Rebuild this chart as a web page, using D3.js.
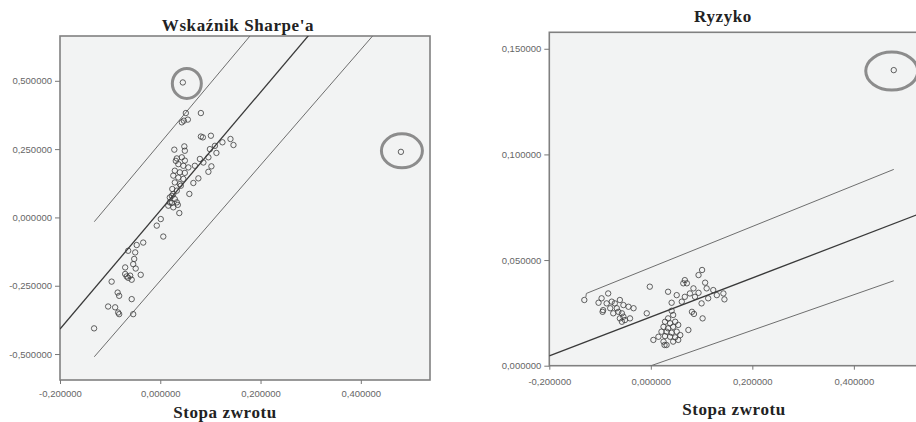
<!DOCTYPE html>
<html>
<head>
<meta charset="utf-8">
<script src="https://cdn.jsdelivr.net/npm/d3@7/dist/d3.min.js"></script>
<style>
  body { margin: 0; background: #fff; }
  .tick text { font-family: 'Liberation Sans', Arial, sans-serif; font-size: 9.5px; fill: #666; }
  .tick line { stroke: #777; }
  .title { font-family: 'Liberation Serif', 'Times New Roman', serif; font-weight: bold; font-size: 17px; fill: #222; letter-spacing: 0.6px; }
</style>
</head>
<body>
<div id="container"></div>
<script>
/* Wskaźnik Sharpe'a vs stopa zwrotu, [x, y] */
var sharpePoints = [
  [0.051, 0.382], [0.081, 0.382], [0.047, 0.354], [0.055, 0.358], [0.043, 0.348],
  [0.081, 0.296], [0.085, 0.293], [0.101, 0.299], [0.028, 0.248], [0.048, 0.260],
  [0.049, 0.244], [0.124, 0.275], [0.140, 0.287], [0.146, 0.265], [0.109, 0.262],
  [0.099, 0.250], [0.112, 0.236], [0.096, 0.220], [0.079, 0.214], [0.086, 0.201],
  [0.102, 0.187], [0.096, 0.167], [0.069, 0.189], [0.076, 0.143], [0.066, 0.126],
  [0.058, 0.086], [0.033, 0.216], [0.043, 0.220], [0.049, 0.208], [0.036, 0.195],
  [0.046, 0.189], [0.056, 0.183], [0.029, 0.171], [0.039, 0.165], [0.049, 0.163],
  [0.026, 0.153], [0.036, 0.146], [0.046, 0.141], [0.029, 0.128], [0.039, 0.122],
  [0.031, 0.207], [0.041, 0.116], [0.024, 0.104], [0.033, 0.098], [0.026, 0.086],
  [0.023, 0.079], [0.019, 0.073], [0.029, 0.067], [0.023, 0.053], [0.033, 0.055],
  [0.019, 0.055], [0.035, 0.046], [0.016, 0.043], [0.026, 0.037], [0.038, 0.016],
  [0.001, -0.006], [-0.007, -0.030], [0.006, -0.070], [-0.034, -0.092], [-0.047, -0.101],
  [-0.064, -0.122], [-0.050, -0.128], [-0.052, -0.152], [-0.054, -0.171], [-0.070, -0.183],
  [-0.049, -0.187], [-0.070, -0.207], [-0.067, -0.216], [-0.060, -0.213], [-0.064, -0.221],
  [-0.057, -0.228], [-0.039, -0.210], [-0.097, -0.235], [-0.085, -0.275], [-0.082, -0.287],
  [-0.057, -0.299], [-0.104, -0.326], [-0.090, -0.329], [-0.084, -0.348], [-0.082, -0.354],
  [-0.054, -0.354], [-0.132, -0.406],
  [0.045, 0.494], [0.480, 0.240]
]

/* Ryzyko vs stopa zwrotu, [x, y] */
var riskPoints = [
  [-0.131, 0.0311], [-0.103, 0.0298], [-0.097, 0.0319], [-0.084, 0.0342], [-0.087, 0.0295],
  [-0.094, 0.0263], [-0.095, 0.0255], [-0.077, 0.0303], [-0.071, 0.0295], [-0.067, 0.0272],
  [-0.061, 0.0311], [-0.054, 0.0287], [-0.044, 0.0279], [-0.034, 0.0272], [-0.064, 0.0255],
  [-0.057, 0.0248], [-0.054, 0.0232], [-0.061, 0.0224], [-0.051, 0.0216], [-0.041, 0.0224],
  [-0.057, 0.0208], [-0.074, 0.0248], [-0.080, 0.0272],
  [-0.002, 0.0374], [-0.008, 0.0248], [0.034, 0.0350], [0.041, 0.0298], [0.051, 0.0334],
  [0.064, 0.0390], [0.067, 0.0405], [0.071, 0.0390], [0.094, 0.0429], [0.101, 0.0453],
  [0.107, 0.0393], [0.084, 0.0366], [0.094, 0.0345], [0.110, 0.0366], [0.123, 0.0358],
  [0.067, 0.0326], [0.077, 0.0342], [0.087, 0.0326], [0.061, 0.0303], [0.100, 0.0295],
  [0.113, 0.0319], [0.130, 0.0334], [0.143, 0.0342], [0.145, 0.0314], [0.081, 0.0255],
  [0.085, 0.0245], [0.102, 0.0224], [0.074, 0.0169],
  [0.041, 0.0260], [0.044, 0.0240], [0.034, 0.0224], [0.028, 0.0208], [0.038, 0.0201],
  [0.048, 0.0208], [0.054, 0.0193], [0.025, 0.0184], [0.034, 0.0177], [0.044, 0.0184],
  [0.031, 0.0161], [0.041, 0.0156], [0.051, 0.0161], [0.021, 0.0161], [0.028, 0.0140],
  [0.038, 0.0137], [0.048, 0.0134], [0.015, 0.0137], [0.005, 0.0122], [0.025, 0.0114],
  [0.031, 0.0098], [0.027, 0.0098], [0.044, 0.0114], [0.058, 0.0145], [0.054, 0.0122],
  [0.4786, 0.1399]
]

/* regression line and prediction bounds, as [x, y] end points */
var sharpeFit = [[-0.2, -0.4085], [0.3, 0.675]]
var sharpeUpper = [[-0.1316, -0.0157], [0.1789, 0.664]]
var sharpeLower = [[-0.1316, -0.51], [0.4235, 0.664]]
var riskFit = [[-0.2, 0.0046], [0.55, 0.0738]]
var riskUpper = [[-0.128, 0.0325], [-0.127, 0.0342], [0.4786, 0.0929]]
var riskLower = [[-0.128, -0.0108], [0.4786, 0.0402]]

/* circled outliers */
var sharpeOutliers = [[0.045, 0.494], [0.480, 0.240]]
var riskOutliers = [[0.4786, 0.1399]]

var sharpeXTicks = [-0.2, 0, 0.2, 0.4]
var sharpeYTicks = [-0.5, -0.25, 0, 0.25, 0.5]
var riskXTicks = [-0.2, 0, 0.2, 0.4]
var riskYTicks = [0, 0.05, 0.1, 0.15]

var plFormat = d3.formatLocale({
  decimal: ',', thousands: ' ', grouping: [3], currency: ['', ' zł'], minus: '-'
}).format('.6f')

var svg = d3.select('#container').append('svg')
  .attr('width', 916)
  .attr('height', 422)

function drawPanel (p) {
  var x = d3.scaleLinear().domain(p.xDomain).range([p.left, p.right])
  var y = d3.scaleLinear().domain(p.yDomain).range([p.bottom, p.top])

  var g = svg.append('g')

  g.append('clipPath')
    .attr('id', p.id)
    .append('rect')
    .attr('x', p.left).attr('y', p.top)
    .attr('width', p.right - p.left).attr('height', p.bottom - p.top)

  g.append('rect')
    .attr('x', p.left).attr('y', p.top)
    .attr('width', p.right - p.left).attr('height', p.bottom - p.top)
    .style('fill', '#f2f3f3')
    .style('stroke', '#808080')
    .style('stroke-width', 1.6)

  g.append('g')
    .attr('transform', 'translate(' + p.left + ',0)')
    .call(d3.axisLeft(y).tickValues(p.yTicks).tickFormat(plFormat).tickSize(5).tickPadding(3))
    .call(function (a) { a.select('.domain').remove() })

  g.append('g')
    .attr('transform', 'translate(0,' + p.bottom + ')')
    .call(d3.axisBottom(x).tickValues(p.xTicks).tickFormat(plFormat).tickSize(4).tickPadding(p.xPad))
    .call(function (a) { a.select('.domain').remove() })

  var line = d3.line()
    .x(function (d) { return x(d[0]) })
    .y(function (d) { return y(d[1]) })

  var lines = g.append('g').attr('clip-path', 'url(#' + p.id + ')')

  lines.selectAll('path.band')
    .data(p.bands)
    .enter().append('path')
    .attr('d', line)
    .style('fill', 'none')
    .style('stroke', '#6e6e6e')
    .style('stroke-width', 1)

  lines.append('path')
    .attr('d', line(p.fit))
    .style('fill', 'none')
    .style('stroke', '#3a3a3a')
    .style('stroke-width', 1.3)

  lines.selectAll('circle')
    .data(p.points)
    .enter().append('circle')
    .attr('cx', function (d) { return x(d[0]) })
    .attr('cy', function (d) { return y(d[1]) })
    .attr('r', 2.7)
    .style('fill', 'none')
    .style('stroke', '#3c3c3c')
    .style('stroke-opacity', 0.8)
    .style('stroke-width', 1)

  // grey rings drawn round the outliers
  g.selectAll('ellipse')
    .data(p.outliers)
    .enter().append('ellipse')
    .attr('cx', function (d, i) { return x(d[0]) + p.rings[i][0] })
    .attr('cy', function (d, i) { return y(d[1]) + p.rings[i][1] })
    .attr('rx', function (d, i) { return p.rings[i][2] })
    .attr('ry', function (d, i) { return p.rings[i][3] })
    .style('fill', 'none')
    .style('stroke', '#8c8c8c')
    .style('stroke-width', 3)

  svg.append('text')
    .attr('class', 'title')
    .attr('x', p.titleX).attr('y', p.titleY)
    .attr('text-anchor', 'middle')
    .text(p.title)

  svg.append('text')
    .attr('class', 'title')
    .attr('x', p.labelX).attr('y', p.labelY)
    .attr('text-anchor', 'middle')
    .text('Stopa zwrotu')
}

drawPanel({
  id: 'clipSharpe',
  left: 60, right: 430, top: 36, bottom: 380,
  xDomain: [-0.2, 0.538], yDomain: [-0.595, 0.664],
  xTicks: sharpeXTicks, yTicks: sharpeYTicks, xPad: 6,
  points: sharpePoints, fit: sharpeFit, bands: [sharpeUpper, sharpeLower],
  outliers: sharpeOutliers, rings: [[4, 1, 14.5, 15], [1, -1, 20.5, 17]],
  title: "Wskaźnik Sharpe'a", titleX: 238, titleY: 30.5,
  labelX: 225, labelY: 418
})

drawPanel({
  id: 'clipRisk',
  left: 549.3, right: 930, top: 32.3, bottom: 365.7,
  xDomain: [-0.2, 0.55], yDomain: [0, 0.1578],
  xTicks: riskXTicks, yTicks: riskYTicks, xPad: 9,
  points: riskPoints, fit: riskFit, bands: [riskUpper, riskLower],
  outliers: riskOutliers, rings: [[-2, 1, 26, 19]],
  title: 'Ryzyko', titleX: 723, titleY: 22,
  labelX: 734, labelY: 415
})
</script>
</body>
</html>
